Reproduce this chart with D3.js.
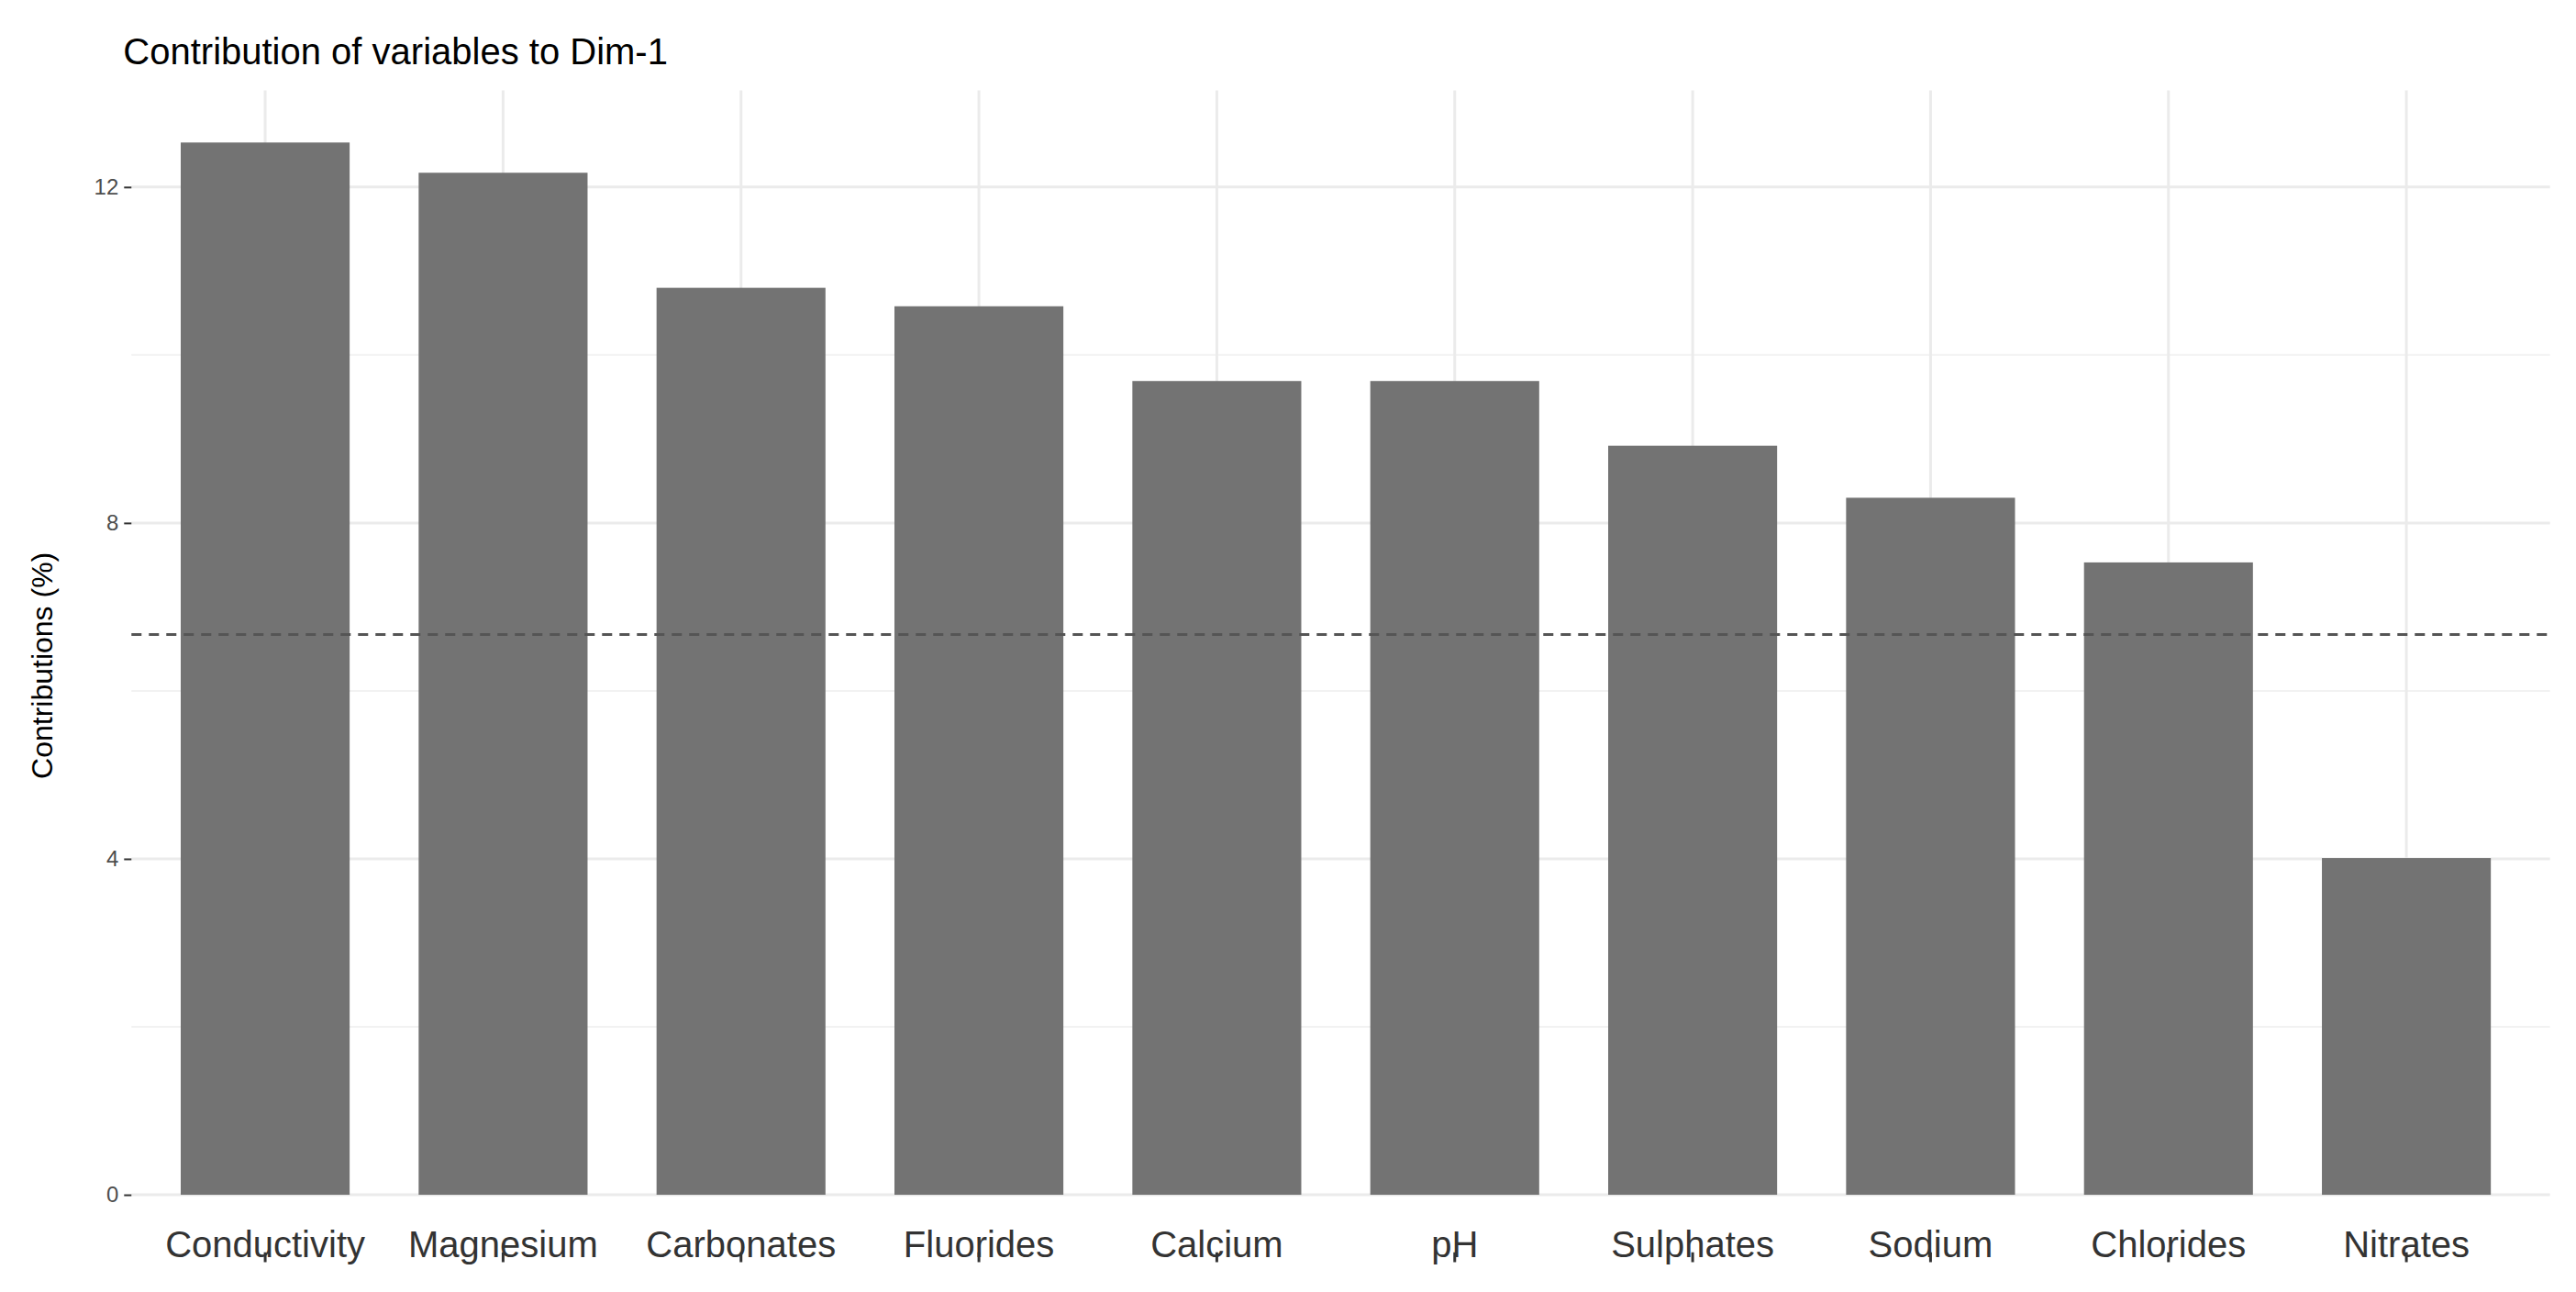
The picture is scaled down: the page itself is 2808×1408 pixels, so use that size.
<!DOCTYPE html>
<html><head><meta charset="utf-8">
<script src="https://cdn.jsdelivr.net/npm/d3@7"></script>
<style>body{margin:0;background:#fff}svg{display:block}</style>
</head><body>
<script>
const categories = ["Conductivity","Magnesium","Carbonates","Fluorides","Calcium","pH","Sulphates","Sodium","Chlorides","Nitrates"];
const values = [12.53,12.17,10.80,10.58,9.69,9.69,8.92,8.30,7.53,4.01];
const yTicks = [0,4,8,12];
const refLine = 6.67;

(function(){
const W=2808,H=1408,s=1.791;
const svg=d3.select("body").append("svg").attr("width",W).attr("height",H).style("font-family","Liberation Sans, Arial, sans-serif");
const pL=89*s,pR=1537*s,pT=55*s,pB=727*s;
const x=d3.scaleBand().domain(categories).range([pL,pR]).paddingInner(0.29).paddingOuter(0.145);
const y=d3.scaleLinear().domain([0,(pB-pT)/(51.1*s)]).range([pB,pT]);
const gx0=80*s, gx1=1552*s;
[2,6,10].forEach(v=>svg.append("line").attr("x1",gx0).attr("x2",gx1).attr("y1",y(v)).attr("y2",y(v)).attr("stroke","#f2f2f2").attr("stroke-width",2));
yTicks.forEach(v=>svg.append("line").attr("x1",gx0).attr("x2",gx1).attr("y1",y(v)).attr("y2",y(v)).attr("stroke","#ebebeb").attr("stroke-width",3));
categories.forEach(c=>svg.append("line").attr("x1",x(c)+x.bandwidth()/2).attr("x2",x(c)+x.bandwidth()/2).attr("y1",pT).attr("y2",pB).attr("stroke","#ebebeb").attr("stroke-width",3));
svg.selectAll("rect.bar").data(categories).join("rect").attr("class","bar")
 .attr("x",c=>x(c)).attr("width",x.bandwidth())
 .attr("y",(c,i)=>y(values[i])).attr("height",(c,i)=>y(0)-y(values[i])).attr("fill","#737373");
svg.append("line").attr("x1",gx0).attr("x2",gx1).attr("y1",y(refLine)).attr("y2",y(refLine))
 .attr("stroke","#555").attr("stroke-width",3).attr("stroke-dasharray","11,8");
const ya=svg.append("g").attr("transform",`translate(${gx0},0)`).call(d3.axisLeft(y).tickValues(yTicks).tickSize(8).tickPadding(6));
ya.select(".domain").remove();
ya.selectAll("text").attr("font-size",24).attr("fill","#4d4d4d");
ya.selectAll("line").attr("stroke","#333").attr("stroke-width",2);
const xa=svg.append("g").attr("transform",`translate(0,${pB})`).call(d3.axisBottom(x).tickSize(0).tickPadding(40));
xa.select(".domain").remove();
xa.selectAll("text").attr("font-size",40).attr("fill","#333");
categories.forEach(c=>svg.append("line").attr("x1",x(c)+x.bandwidth()/2).attr("x2",x(c)+x.bandwidth()/2).attr("y1",762*s).attr("y2",768*s).attr("stroke","#333").attr("stroke-width",3));
svg.append("text").attr("x",75*s).attr("y",39*s).attr("font-size",40).attr("fill","#000").text("Contribution of variables to Dim-1");
svg.append("text").attr("transform",`translate(${32*s},${405*s}) rotate(-90)`).attr("text-anchor","middle").attr("font-size",32).attr("fill","#000").text("Contributions (%)");
})();
</script>
</body></html>
